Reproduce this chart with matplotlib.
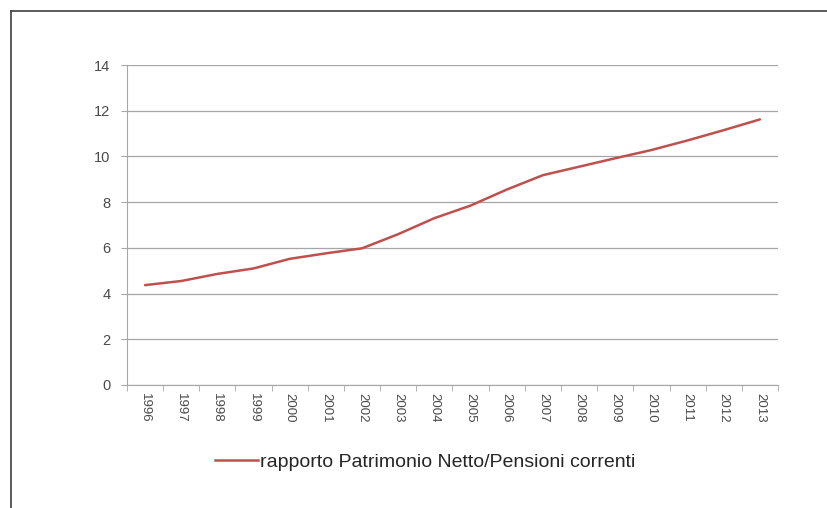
import numpy as np
import matplotlib
matplotlib.use("Agg")
import matplotlib.pyplot as plt
from matplotlib.lines import Line2D

years = ["1996", "1997", "1998", "1999", "2000", "2001", "2002", "2003", "2004",
         "2005", "2006", "2007", "2008", "2009", "2010", "2011", "2012", "2013"]
ratio = [4.37, 4.55, 4.86, 5.1, 5.52, 5.76, 5.98, 6.6, 7.3,
         7.85, 8.55, 9.18, 9.55, 9.92, 10.28, 10.7, 11.15, 11.62]
series_name = "rapporto Patrimonio Netto/Pensioni correnti"
yticks = [0, 2, 4, 6, 8, 10, 12, 14]

plt.rcParams['font.family'] = ['Liberation Sans', 'DejaVu Sans']

fig = plt.figure(figsize=(8.28, 5.08), dpi=100)
W, H = 828, 508
ax = fig.add_axes([127 / W, 1 - 385 / H, (778 - 127) / W, (385 - 65) / H])

x = np.arange(len(years))
ax.plot(x, ratio, color='#C0504D', lw=1.8, solid_capstyle='round')

ax.set_xlim(-0.5, len(years) - 0.5)
ax.set_ylim(0, 14)
ax.set_yticks(yticks)
ax.set_yticklabels([str(v) for v in yticks])
ax.yaxis.grid(True, color='#a6a6a6', lw=0.9)
ax.set_axisbelow(True)

ax.set_xticks(x)
ax.set_xticklabels(years, rotation=-90, va='top', ha='center')
ax.set_xticks(np.arange(-0.5, len(years), 1), minor=True)
ax.tick_params(axis='x', which='major', length=0, pad=6, labelsize=9.5)
ax.tick_params(axis='x', which='minor', length=4, color='#a6a6a6', direction='out')
ax.tick_params(axis='y', length=4, color='#a6a6a6', pad=8, labelsize=10.5)
ax.tick_params(labelcolor='#4a4a4a')

for s in ['top', 'right']:
    ax.spines[s].set_visible(False)
ax.spines['left'].set_color('#a6a6a6')
ax.spines['bottom'].set_color('#a6a6a6')

# legend below the plot
handle = Line2D([], [], color='#C0504D', lw=1.8)
fig.legend([handle], [series_name], loc='center', bbox_to_anchor=(425 / W, 1 - 462 / H),
           frameon=False, fontsize=14, handlelength=2.2, handletextpad=0.1,
           labelcolor='#262626')

# outer frame (top and left edges visible in the crop)
fig.add_artist(Line2D([11 / W, 1], [1 - 11 / H, 1 - 11 / H], color='#404040', lw=1.2,
                      transform=fig.transFigure))
fig.add_artist(Line2D([11 / W, 11 / W], [0, 1 - 11 / H], color='#404040', lw=1.2,
                      transform=fig.transFigure))

fig.savefig("out.png", dpi=100)
